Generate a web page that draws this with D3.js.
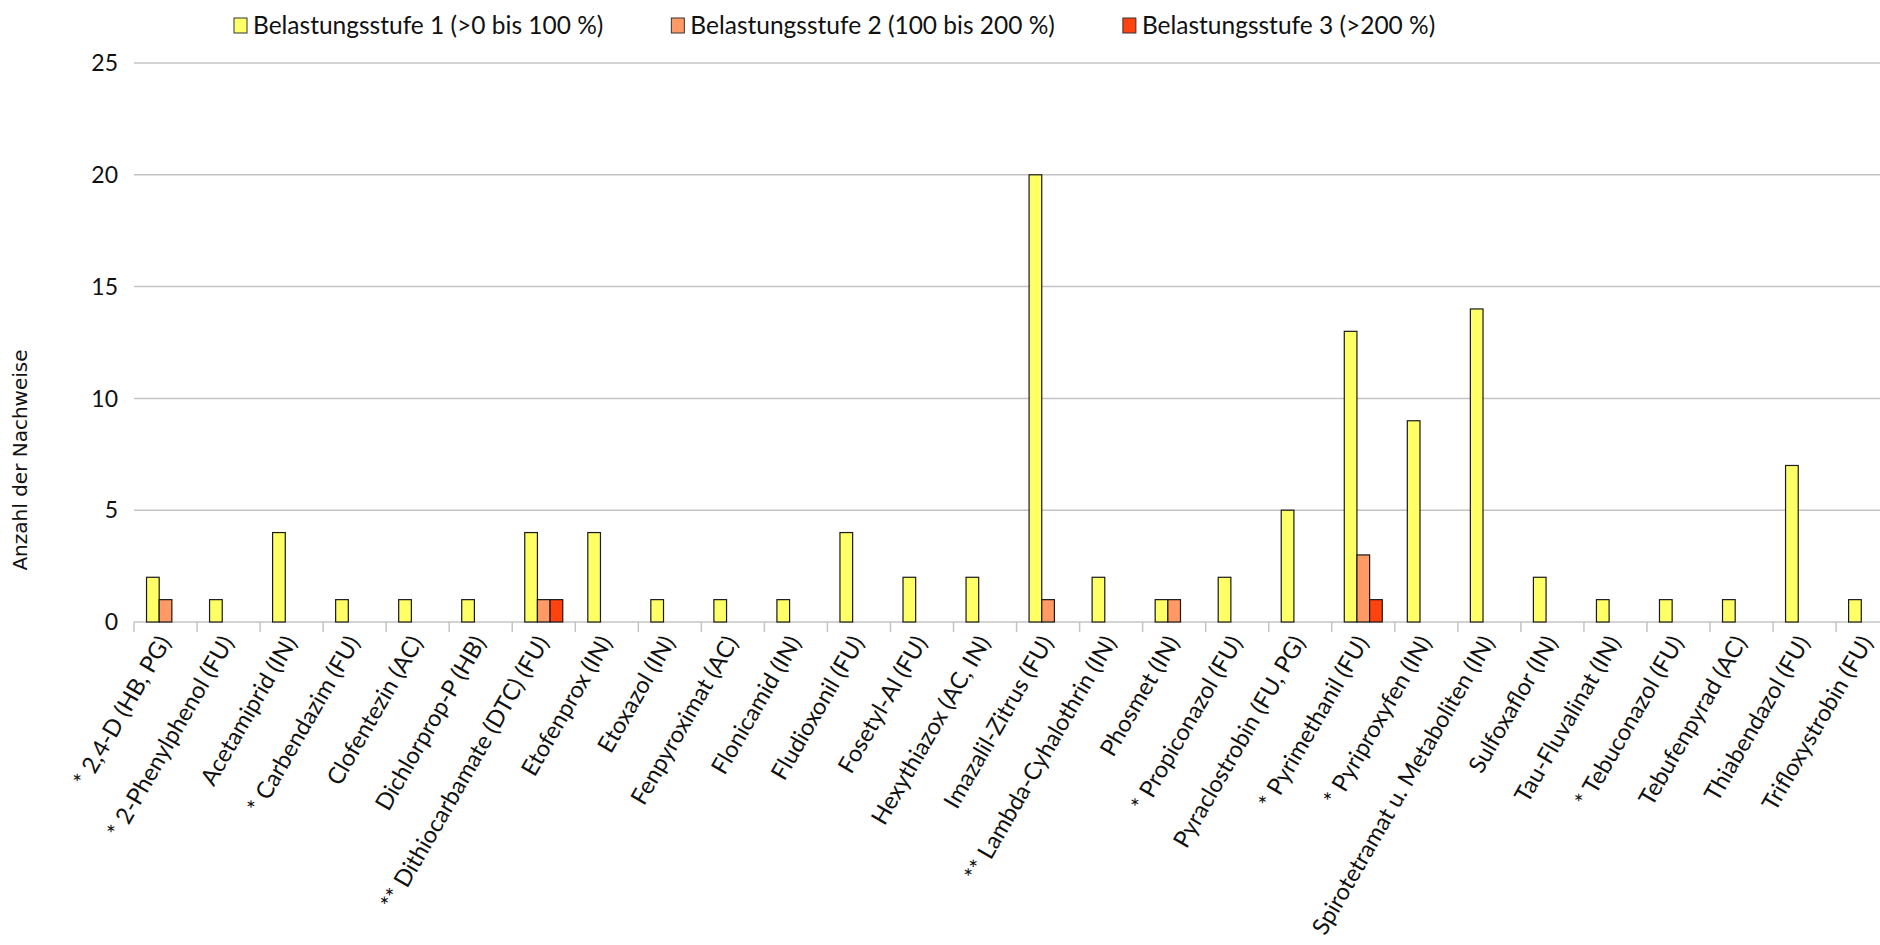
<!DOCTYPE html>
<html>
<head>
<meta charset="utf-8">
<script src="https://cdn.jsdelivr.net/npm/d3@7"></script>
<style>
  html, body { margin: 0; padding: 0; background: #fff; overflow: hidden; }
  svg { display: block; }
</style>
</head>
<body>
<svg id="chart" width="1880" height="945"></svg>
<script>
// Wirkstoffe (Kategorien der x-Achse)
const categories = [
  "* 2,4-D (HB, PG)",
  "* 2-Phenylphenol (FU)",
  "Acetamiprid (IN)",
  "* Carbendazim (FU)",
  "Clofentezin (AC)",
  "Dichlorprop-P (HB)",
  "** Dithiocarbamate (DTC) (FU)",
  "Etofenprox (IN)",
  "Etoxazol (IN)",
  "Fenpyroximat (AC)",
  "Flonicamid (IN)",
  "Fludioxonil (FU)",
  "Fosetyl-Al (FU)",
  "Hexythiazox (AC, IN)",
  "Imazalil-Zitrus (FU)",
  "** Lambda-Cyhalothrin (IN)",
  "Phosmet (IN)",
  "* Propiconazol (FU)",
  "Pyraclostrobin (FU, PG)",
  "* Pyrimethanil (FU)",
  "* Pyriproxyfen (IN)",
  "Spirotetramat u. Metaboliten (IN)",
  "Sulfoxaflor (IN)",
  "Tau-Fluvalinat (IN)",
  "* Tebuconazol (FU)",
  "Tebufenpyrad (AC)",
  "Thiabendazol (FU)",
  "Trifloxystrobin (FU)"
];

// Anzahl der Nachweise je Belastungsstufe
const stufe1 = [2, 1, 4, 1, 1, 1, 4, 4, 1, 1, 1, 4, 2, 2, 20, 2, 1, 2, 5, 13, 9, 14, 2, 1, 1, 1, 7, 1];
const stufe2 = [1, 0, 0, 0, 0, 0, 1, 0, 0, 0, 0, 0, 0, 0, 1, 0, 1, 0, 0, 3, 0, 0, 0, 0, 0, 0, 0, 0];
const stufe3 = [0, 0, 0, 0, 0, 0, 1, 0, 0, 0, 0, 0, 0, 0, 0, 0, 0, 0, 0, 1, 0, 0, 0, 0, 0, 0, 0, 0];

const seriesNames = [
  "Belastungsstufe 1 (>0 bis 100 %)",
  "Belastungsstufe 2 (100 bis 200 %)",
  "Belastungsstufe 3 (>200 %)"
];
const seriesColors = ["#ffff66", "#ff9966", "#ff420e"];

const yTicks = [0, 5, 10, 15, 20, 25];
const yTitle = "Anzahl der Nachweise";

const seriesValues = [stufe1, stufe2, stufe3];

const svg = d3.select("#chart");
const margin = { left: 134, top: 63, bottom: 622 };
const catWidth = 63.04;

const x = d3.scaleBand()
  .domain(categories)
  .range([margin.left, margin.left + catWidth * categories.length])
  .paddingInner(0)
  .paddingOuter(0);

const groupWidth = 38;
const xInner = d3.scaleBand()
  .domain(d3.range(seriesNames.length))
  .range([0, groupWidth]);

const y = d3.scaleLinear()
  .domain([0, 25])
  .range([margin.bottom, margin.top]);

const FONT = "Lato, 'Open Sans', sans-serif";

// horizontale Gitterlinien
svg.append("g")
  .selectAll("line")
  .data(yTicks)
  .join("line")
  .attr("x1", margin.left)
  .attr("x2", 1880)
  .attr("y1", d => y(d))
  .attr("y2", d => y(d))
  .attr("stroke", "#c4c4c4")
  .attr("stroke-width", 1.5);

// y-Achse Beschriftung
svg.append("g")
  .selectAll("text")
  .data(yTicks)
  .join("text")
  .attr("x", 118)
  .attr("y", d => y(d))
  .attr("dy", "0.36em")
  .attr("text-anchor", "end")
  .attr("font-family", FONT)
  .attr("font-size", 23)
  .attr("fill", "#111")
  .text(d => d);

// x-Achse: Teilstriche zwischen den Kategorien
const gx = svg.append("g")
  .attr("transform", `translate(0,${margin.bottom})`);

const boundaries = categories.map(c => x(c)).concat([x(categories[categories.length - 1]) + x.bandwidth()]);
gx.selectAll("line.sep")
  .data(boundaries)
  .join("line")
  .attr("class", "sep")
  .attr("x1", d => d)
  .attr("x2", d => d)
  .attr("y1", 0)
  .attr("y2", 10)
  .attr("stroke", "#c4c4c4")
  .attr("stroke-width", 1.5);

// Balken
const groups = svg.append("g")
  .selectAll("g")
  .data(categories)
  .join("g")
  .attr("transform", c => `translate(${x(c) + (x.bandwidth() - groupWidth) / 2},0)`);

groups.selectAll("rect")
  .data((c, i) => seriesValues.map((vals, s) => ({ s, v: vals[i] })).filter(d => d.v > 0))
  .join("rect")
  .attr("x", d => xInner(d.s))
  .attr("width", xInner.bandwidth())
  .attr("y", d => y(d.v))
  .attr("height", d => y(0) - y(d.v))
  .attr("fill", d => seriesColors[d.s])
  .attr("stroke", "#1a1a1a")
  .attr("stroke-width", 1.2);

// Kategorienbeschriftung, gedreht
svg.append("g")
  .selectAll("text")
  .data(categories)
  .join("text")
  .attr("transform", c => `translate(${x(c) + x.bandwidth() / 2 + 6},${margin.bottom + 20}) rotate(-60)`)
  .attr("text-anchor", "end")
  .attr("font-family", FONT)
  .attr("font-size", 23.5)
  .attr("fill", "#111")
  .text(c => c);

// Achsentitel
svg.append("text")
  .attr("transform", "translate(27,460) rotate(-90)")
  .attr("text-anchor", "middle")
  .attr("font-family", "'DejaVu Sans', sans-serif")
  .attr("font-size", 20)
  .attr("fill", "#111")
  .text(yTitle);

// Legende
const legend = svg.append("g").attr("transform", "translate(234,25)");
let lx = 0;
seriesNames.forEach((name, i) => {
  const item = legend.append("g").attr("transform", `translate(${lx},0)`);
  item.append("rect")
    .attr("x", 0).attr("y", -7)
    .attr("width", 13).attr("height", 15)
    .attr("fill", seriesColors[i])
    .attr("stroke", "#333")
    .attr("stroke-width", 1);
  const t = item.append("text")
    .attr("x", 19).attr("y", 0)
    .attr("dy", "0.36em")
    .attr("font-family", FONT)
    .attr("font-size", 24.5)
    .attr("fill", "#111")
    .text(name);
  lx += 19 + t.node().getComputedTextLength() + 68;
});
</script>
</body>
</html>
